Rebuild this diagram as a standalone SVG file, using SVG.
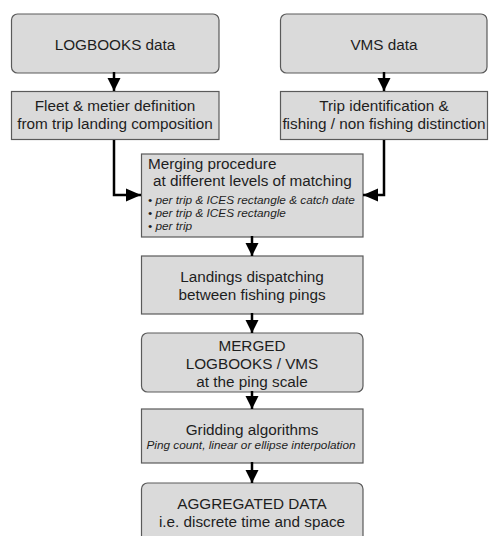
<svg xmlns="http://www.w3.org/2000/svg" width="489" height="536" viewBox="0 0 489 536">
<style>
.box{fill:#dadada;stroke:#5a5a5a;stroke-width:1.2}
.t{font-family:"Liberation Sans",Arial,sans-serif;font-size:15.3px;fill:#1e1e1e}
.c{text-anchor:middle}
.s{font-family:"Liberation Sans",Arial,sans-serif;font-size:11.8px;font-style:italic;fill:#1e1e1e}
.con{fill:none;stroke:#000;stroke-width:2.5}
</style>
<defs>
<marker id="ah" markerUnits="userSpaceOnUse" markerWidth="16" markerHeight="16" viewBox="0 0 16 16" refX="15" refY="8" orient="auto">
<path d="M0,1.5 L15,8 L0,14.5 Z" fill="#000"/>
</marker>
<marker id="ahs" markerUnits="userSpaceOnUse" markerWidth="14" markerHeight="14" viewBox="0 0 14 14" refX="13" refY="7" orient="auto">
<path d="M0,0.5 L13,7 L0,13.5 Z" fill="#000"/>
</marker>
</defs>
<rect width="489" height="536" fill="#fff"/>
<g id="logbooks"><rect class="box" x="11.5" y="14" width="207.5" height="59" rx="6"/><text class="t c" x="115" y="50">LOGBOOKS data</text></g>
<g id="vms"><rect class="box" x="280.5" y="14" width="206.5" height="59" rx="6"/><text class="t c" x="384" y="50">VMS data</text></g>
<g id="fleet"><rect class="box" x="11.5" y="91.5" width="207.5" height="48"/><text class="t c" x="115" y="111">Fleet &amp; metier definition</text><text class="t c" x="115" y="129">from trip landing composition</text></g>
<g id="trip"><rect class="box" x="280.5" y="91.5" width="207" height="48"/><text class="t c" x="384" y="111">Trip identification &amp;</text><text class="t c" x="384" y="129">fishing / non fishing distinction</text></g>
<g id="merging"><rect class="box" x="141.5" y="154" width="221.5" height="83"/><text class="t" x="148" y="169">Merging procedure</text><text class="t" x="153" y="186">at different levels of matching</text><text class="s" x="148" y="204">• per trip &amp; ICES rectangle &amp; catch date</text><text class="s" x="148" y="217">• per trip &amp; ICES rectangle</text><text class="s" x="148" y="230">• per trip</text></g>
<g id="landings"><rect class="box" x="141.5" y="256" width="221.5" height="58"/><text class="t c" x="252" y="282">Landings dispatching</text><text class="t c" x="252" y="300">between fishing pings</text></g>
<g id="merged"><rect class="box" x="141.5" y="333" width="221.5" height="59" rx="6"/><text class="t c" x="252" y="351">MERGED</text><text class="t c" x="252" y="369">LOGBOOKS / VMS</text><text class="t c" x="252" y="387">at the ping scale</text></g>
<g id="gridding"><rect class="box" x="141.5" y="409" width="221.5" height="54"/><text class="t c" x="252" y="435">Gridding algorithms</text><text class="s c" x="251" y="449">Ping count, linear or ellipse interpolation</text></g>
<g id="aggregated"><rect class="box" x="141.5" y="483" width="221.5" height="62" rx="6"/><text class="t c" x="252" y="509">AGGREGATED DATA</text><text class="t c" x="252" y="527">i.e. discrete time and space</text></g>
<g id="connectors">
<path class="con" d="M114,72 V91" marker-end="url(#ahs)"/>
<path class="con" d="M384,72 V91" marker-end="url(#ahs)"/>
<path class="con" d="M114,140 V195 H141" marker-end="url(#ah)"/>
<path class="con" d="M384,140 V195 H363" marker-end="url(#ah)"/>
<path class="con" d="M252,236 V256" marker-end="url(#ahs)"/>
<path class="con" d="M252,313 V333" marker-end="url(#ahs)"/>
<path class="con" d="M252,391 V409" marker-end="url(#ahs)"/>
<path class="con" d="M252,462 V483" marker-end="url(#ahs)"/>
</g>
</svg>
